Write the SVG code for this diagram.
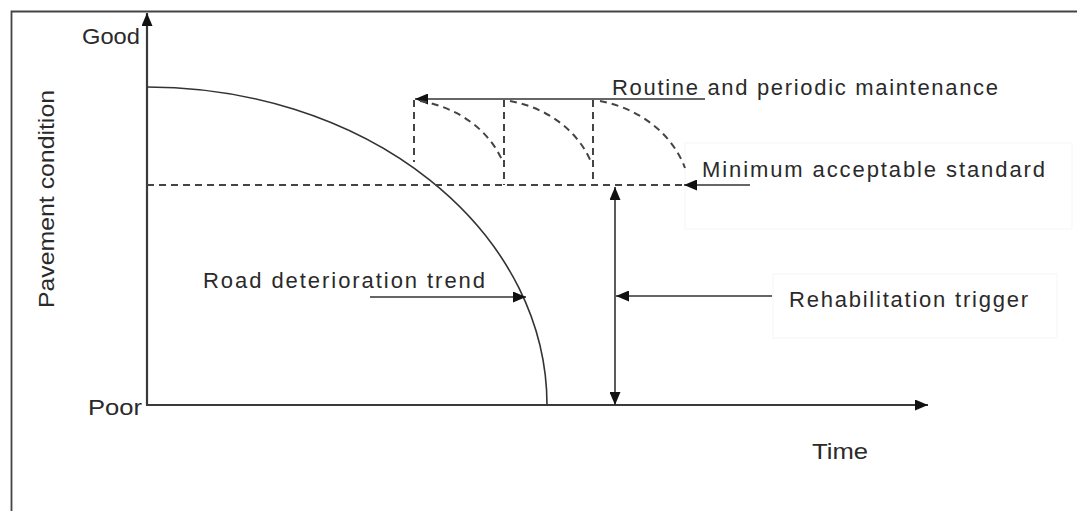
<svg xmlns="http://www.w3.org/2000/svg" width="1077" height="511" viewBox="0 0 1077 511">
<defs>
<style>
.t{font-family:"Liberation Sans",Arial,sans-serif;font-size:22px;fill:#2a2a2a}
.ax{stroke:#3a3a3a;stroke-width:2.2;fill:none}
.ln{stroke:#333;stroke-width:1.6;fill:none}
.ds{stroke:#444;stroke-width:2;fill:none;stroke-dasharray:7,5}
.fb{fill:none;stroke:#f6f6f6;stroke-width:1}
</style>
<marker id="ah" viewBox="0 0 13 11" refX="13" refY="5.5" markerWidth="13" markerHeight="11" markerUnits="userSpaceOnUse" orient="auto-start-reverse">
<path d="M0,0 L13,5.5 L0,11 Z" fill="#111"/>
</marker>
</defs>
<rect width="1077" height="511" fill="#fff"/>
<g id="frame">
<path d="M11.5,511 V11.5 H1077" stroke="#444" stroke-width="1.8" fill="none"/>
</g>
<g id="label-boxes">
<rect class="fb" x="685" y="143" width="387" height="86"/>
<rect class="fb" x="773" y="274" width="284" height="64"/>
</g>
<g id="connectors">
<line class="ax" x1="147" y1="405" x2="147" y2="13" marker-end="url(#ah)"/>
<line class="ax" x1="146" y1="405" x2="928" y2="405" marker-end="url(#ah)"/>
<path class="ln" d="M147,87 A400,318 0 0 1 547,405"/>
<line class="ds" x1="147" y1="185" x2="686" y2="185"/>
<line class="ln" x1="705" y1="99" x2="415" y2="99" marker-end="url(#ah)"/>
<line class="ds" x1="414" y1="100" x2="414" y2="162"/>
<line class="ds" x1="504" y1="100" x2="504" y2="185"/>
<line class="ds" x1="593" y1="100" x2="593" y2="185"/>
<path class="ds" d="M420,101 A110,95 0 0 1 502,160"/>
<path class="ds" d="M510,101 A110,95 0 0 1 591,162"/>
<path class="ds" d="M600,101 A115,100 0 0 1 685,168"/>
<line class="ln" x1="750" y1="185" x2="684" y2="185" marker-end="url(#ah)"/>
<line class="ln" x1="615" y1="296" x2="615" y2="187" marker-end="url(#ah)"/>
<line class="ln" x1="615" y1="296" x2="615" y2="405" marker-end="url(#ah)"/>
<line class="ln" x1="772" y1="296" x2="616" y2="296" marker-end="url(#ah)"/>
<line class="ln" x1="370" y1="297" x2="526" y2="297" marker-end="url(#ah)"/>
</g>
<g id="axis-labels">
<text class="t" x="82" y="44" textLength="58" lengthAdjust="spacingAndGlyphs">Good</text>
<text class="t" x="88" y="415" textLength="54" lengthAdjust="spacingAndGlyphs">Poor</text>
<text class="t" x="812" y="459" textLength="56" lengthAdjust="spacingAndGlyphs">Time</text>
<text class="t" transform="translate(54,308) rotate(-90)" x="0" y="0" textLength="218" lengthAdjust="spacingAndGlyphs">Pavement condition</text>
</g>
<g id="label-routine">
<text class="t" x="612" y="95" textLength="386" lengthAdjust="spacing">Routine and periodic maintenance</text>
</g>
<g id="label-minimum">
<text class="t" x="702" y="177" textLength="343" lengthAdjust="spacing">Minimum acceptable standard</text>
</g>
<g id="label-road">
<text class="t" x="203" y="288" textLength="282" lengthAdjust="spacing">Road deterioration trend</text>
</g>
<g id="label-rehab">
<text class="t" x="789" y="307" textLength="239" lengthAdjust="spacing">Rehabilitation trigger</text>
</g>
</svg>
